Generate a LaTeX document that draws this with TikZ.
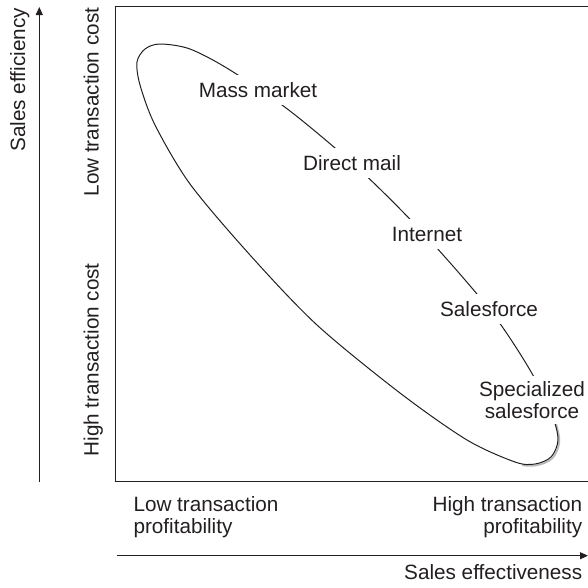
\documentclass[tikz,border=0pt]{standalone}
\usepackage{fontspec}
\setmainfont{Liberation Sans}
\usetikzlibrary{arrows.meta}
\definecolor{ink}{HTML}{231F20}
\begin{document}
\begin{tikzpicture}[x=1pt,y=-1pt,line width=1pt,
  every node/.style={font=\fontsize{20.7}{22.5}\selectfont,text=ink},
  lab/.style={fill=white,inner xsep=2pt,inner ysep=7.5pt,text height=14.8pt,text depth=0pt,anchor=base},
  axlab/.style={inner sep=0pt},
  axarrow/.style={draw=ink,line width=1pt,-{Triangle[length=8pt,width=7pt]}}]
\useasboundingbox (0,0) rectangle (588,587);
% frame
\draw[ink] (588,6.7) -- (115.7,6.7) -- (115.7,481.7) -- (588,481.7);
% shadow of the curve
\begin{scope}
\clip (522,420) rectangle (575,475);
\draw[gray!55,line width=1.8pt,shift={(1.3,1.3)}] plot[smooth cycle] coordinates {
(160,44) (190,49) (230,70) (290,111) (360,170) (425,235) (490,310) (530,370)
(552,415) (558,440) (551,457) (535,464) (515,462) (467,440) (400,393) (317,325)
(250,255) (190,184) (155,125) (140,85) (137,62) (145,49)};
\end{scope}
% the curve
\draw[ink] plot[smooth cycle] coordinates {
(160,44) (190,49) (230,70) (290,111) (360,170) (425,235) (490,310) (530,370)
(552,415) (558,440) (551,457) (535,464) (515,462) (467,440) (400,393) (317,325)
(250,255) (190,184) (155,125) (140,85) (137,62) (145,49)};
% labels on the curve
\node[lab] (mass) at (258,97.3) {Mass market};
\node[lab] (mail) at (352,170) {Direct mail};
\node[lab] (net) at (427,241.7) {Internet};
\node[lab] (sales) at (489,316.7) {Salesforce};
\node[fill=white,align=center,inner xsep=2pt,inner ysep=5.5pt] (spec) at (532,400) {Specialized\\salesforce};
% axes
\coordinate (v0) at (39.3,481.7);
\coordinate (v1) at (39.3,7);
\coordinate (h0) at (116.7,555.7);
\coordinate (h1) at (588,555.7);
\draw[axarrow] (v0) -- (v1);
\draw[axarrow] (h0) -- (h1);
% axis labels
\node[axlab,rotate=90,anchor=base west] (eff) at (25,152) {Sales efficiency};
\node[axlab,rotate=90,anchor=base west] (lowc) at (98.5,197) {Low transaction cost};
\node[axlab,rotate=90,anchor=base west] (highc) at (98.5,457) {High transaction cost};
\node[axlab,align=left,anchor=north west] (lowp) at (133,495.7) {Low transaction\\profitability};
\node[axlab,align=right,anchor=north east] (highp) at (582.7,495.7) {High transaction\\profitability};
\node[axlab,anchor=base east] (effv) at (582.7,579) {Sales effectiveness};
\end{tikzpicture}
\end{document}
